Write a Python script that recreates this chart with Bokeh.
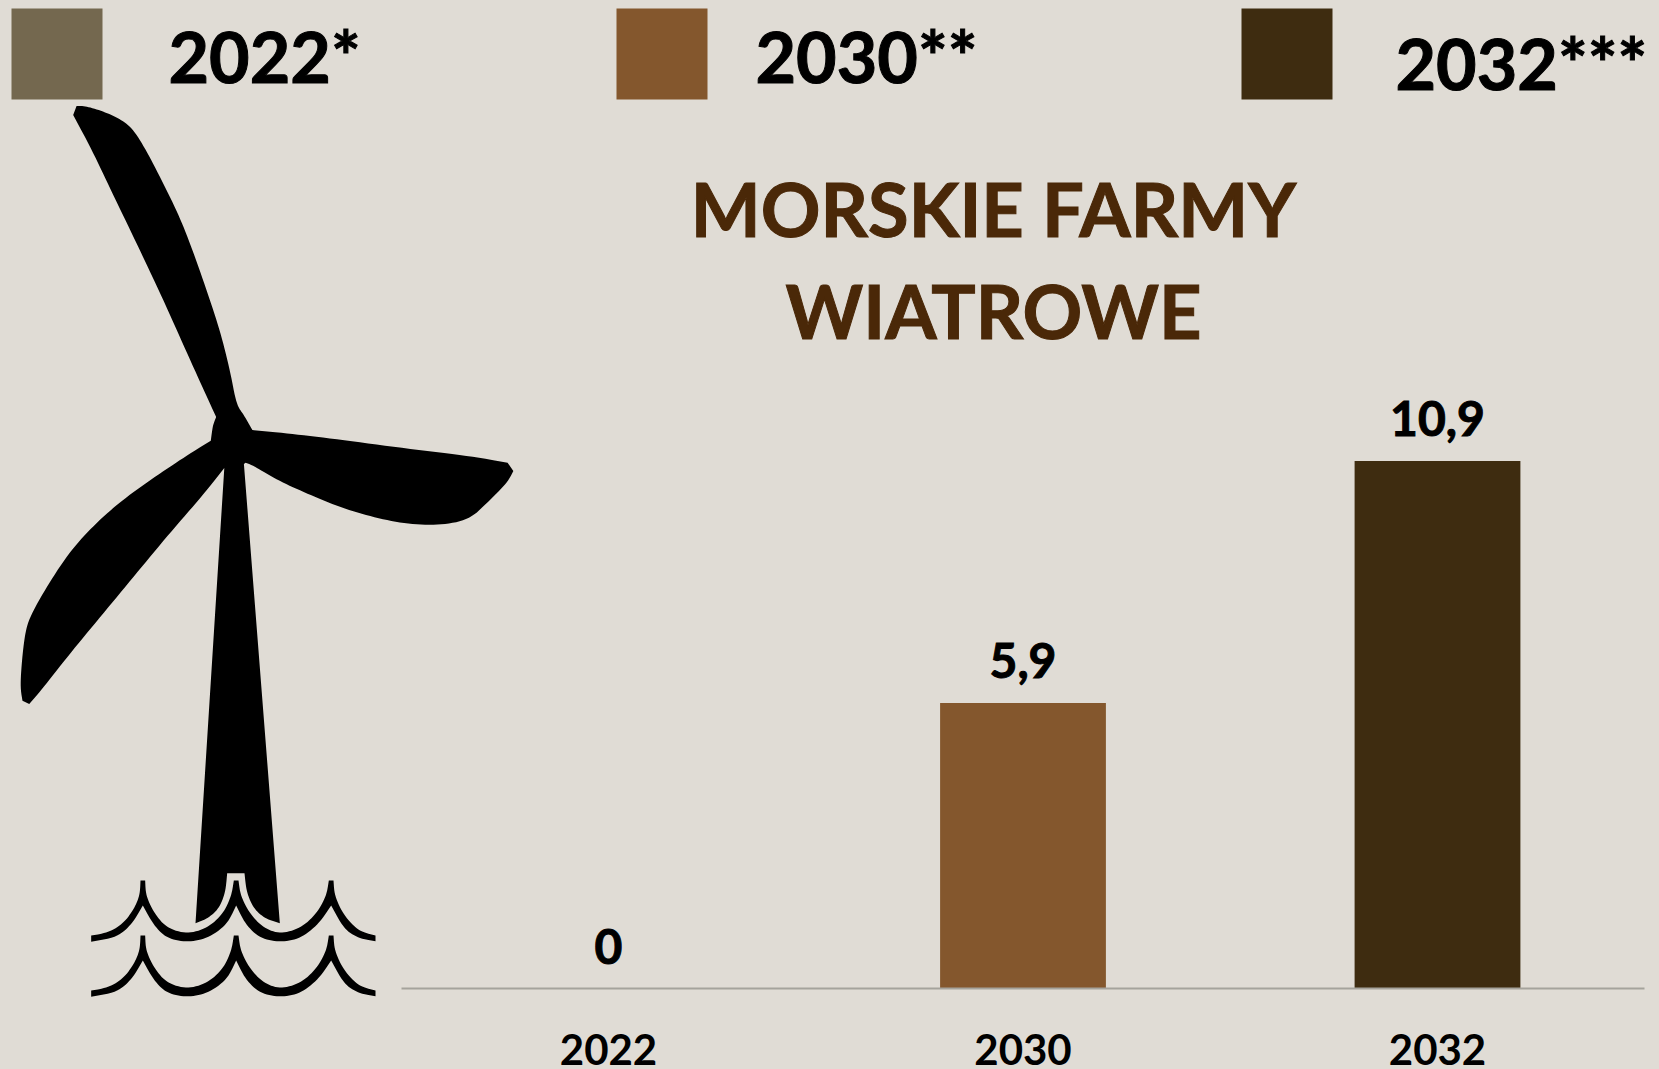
from bokeh.plotting import figure
from bokeh.models import Range1d, BoxAnnotation, PolyAnnotation, Label, LinearAxis, FixedTicker
from bokeh.core.properties import value
from bokeh.embed import file_html
from bokeh.resources import INLINE
import math

# ---- data ----
years = ["2022", "2030", "2032"]
values = [0, 5.9, 10.9]
value_labels = ["0", "5,9", "10,9"]
bar_colors = ["#74684F", "#84572D", "#3E2C10"]
legend_labels = ["2022*", "2030**", "2032***"]
title_lines = ["MORSKIE FARMY", "WIATROWE"]

BG = "#E0DCD5"
TITLE = "#4A2808"
W, H = 1659, 1069
FONT = "Lato"

# icon outlines (page pixels)
blades_zoom = [(215,60),(225,38),(250,38),(300,50),(350,68),(390,92),(430,145),(480,225),(530,310),(570,395),
    (610,490),(650,590),(680,690),(698,770),(720,795),(745,832),(850,840),(1000,855),(1200,877),(1400,897),
    (1500,912),(1517,932),(1500,960),(1440,1010),(1385,1052),(1300,1065),(1200,1062),(1100,1045),(1000,1020),
    (900,985),(820,955),(750,920),(725,912),(720,915)]
blades_zoom2 = [(662,925),(600,990),(500,1085),(400,1185),(300,1285),(200,1385),(120,1470),(85,1503),(65,1495),
    (58,1460),(65,1380),(75,1320),(90,1285),(130,1225),(200,1135),(270,1070),(350,1010),(450,950),(550,895),
    (622,858),(628,820),(638,800),(610,750),(550,640),(480,510),(400,370),(330,250),(270,145)]
tower_foot = [(658,668),(615,655),(580,625),(558,575),(552,518),(500,518),(495,575),(475,625),(440,655),(405,668)]
wave_zoom = [(92,705),(140,697),(185,672),(218,630),(238,585),(240,540),(254,540),(256,585),(282,640),(320,683),
    (380,700),(440,683),(488,640),(513,585),(520,540),(534,540),(540,585),(568,640),(610,683),(660,700),(720,683),
    (768,640),(798,585),(805,540),(819,540),(822,585),(850,645),(895,692),(945,705),(945,722),(895,714),(850,685),
    (812,615),(775,670),(720,714),(660,725),(600,714),(555,672),(527,615),(500,672),(440,714),(380,725),(320,714),
    (280,675),(247,615),(215,670),(170,710),(92,724)]

def z1(pts):
    return [(x / 2.958, 90 + y / 2.45) for x, y in pts]

def z2(pts, dy=0):
    return [(60 + x / 3, 700 + (y + dy) / 3) for x, y in pts]

def smooth(pts, rounds=3, limit=40):
    # corner cutting of an outline; sharp corners (turn above limit degrees) stay sharp
    for _ in range(rounds):
        out = []
        n = len(pts)
        for i in range(n):
            a, b, c = pts[i - 1], pts[i], pts[(i + 1) % n]
            t1 = math.atan2(b[1] - a[1], b[0] - a[0])
            t2 = math.atan2(c[1] - b[1], c[0] - b[0])
            turn = abs((t2 - t1 + math.pi) % (2 * math.pi) - math.pi)
            if math.degrees(turn) > limit:
                out.append(b)
            else:
                out.append((0.75 * b[0] + 0.25 * a[0], 0.75 * b[1] + 0.25 * a[1]))
                out.append((0.75 * b[0] + 0.25 * c[0], 0.75 * b[1] + 0.25 * c[1]))
        pts = out
    return pts

turbine = smooth(z1(blades_zoom) + z2(tower_foot) + z1(blades_zoom2))

# scales: one category = 414.5 px, one value unit = 48.4 px
XPX, YPX = 414.5, 48.4
p = figure(width=W, height=H, x_range=Range1d(-608 / XPX, (W - 608) / XPX),
           y_range=Range1d(-(H - 988) / YPX, 988 / YPX),
           x_axis_type=None, y_axis_type=None,
           output_backend="svg", toolbar_location=None,
           min_border_left=0, min_border_right=0, min_border_top=0, min_border_bottom=0,
           background_fill_color=BG, border_fill_color=BG, outline_line_color=None)
p.grid.visible = False
idx = list(range(len(years)))
ax = LinearAxis(ticker=FixedTicker(ticks=idx), major_label_overrides=dict(zip(idx, years)),
                fixed_location=0, bounds=(-0.5, 2.5))
ax.axis_line_color = "#A5A39C"
ax.axis_line_width = 2
ax.major_tick_line_color = None
ax.minor_tick_line_color = None
ax.major_label_text_font = FONT
ax.major_label_text_font_style = "bold"
ax.major_label_text_font_size = "42px"
ax.major_label_text_color = "#000000"
ax.major_label_standoff = 39
p.add_layout(ax, "below")

p.vbar(x=idx, top=values, width=0.4, color=bar_colors, line_color=None)
p.text(x=idx, y=values, text=value_labels, text_font=value(FONT), text_font_style="bold",
       text_font_size="48px", text_color="#000000", text_outline_color="#000000", text_align="center",
       text_baseline="alphabetic", y_offset=-42)

def poly(pts):
    p.add_layout(PolyAnnotation(xs=[a for a, _ in pts], ys=[b for _, b in pts],
                                xs_units="canvas", ys_units="canvas",
                                fill_color="#000000", fill_alpha=1, line_color=None, level="annotation"))

poly(turbine)
poly(smooth(z2(wave_zoom)))
poly(smooth(z2(wave_zoom, 165)))

def text(x, y, s, size, color="#000000", align="left"):
    p.add_layout(Label(x=x, y=y - 0.37 * size, x_units="canvas", y_units="canvas", text=s, text_font=FONT,
                       text_font_style="bold", text_font_size=f"{size}px", text_color=color,
                       text_outline_color=color, text_align=align, text_baseline="alphabetic"))

for x0, c in zip((11, 616, 1241), bar_colors):
    p.add_layout(BoxAnnotation(left=x0, right=x0 + 91, top=8, bottom=99, left_units="canvas", right_units="canvas",
                               top_units="canvas", bottom_units="canvas", fill_color=c, fill_alpha=1, line_color=None))

for s, x, y in zip(legend_labels, (168, 755, 1395), (81, 81, 88)):
    text(x, y, s, 70)
for s, y in zip(title_lines, (235, 337)):
    text(993, y, s, 74, TITLE, "center")

html = file_html(p, INLINE)
html = html.replace("</head>", f"<style>html,body{{background:{BG};margin:0}}</style></head>")
open("out.html", "w").write(html)
